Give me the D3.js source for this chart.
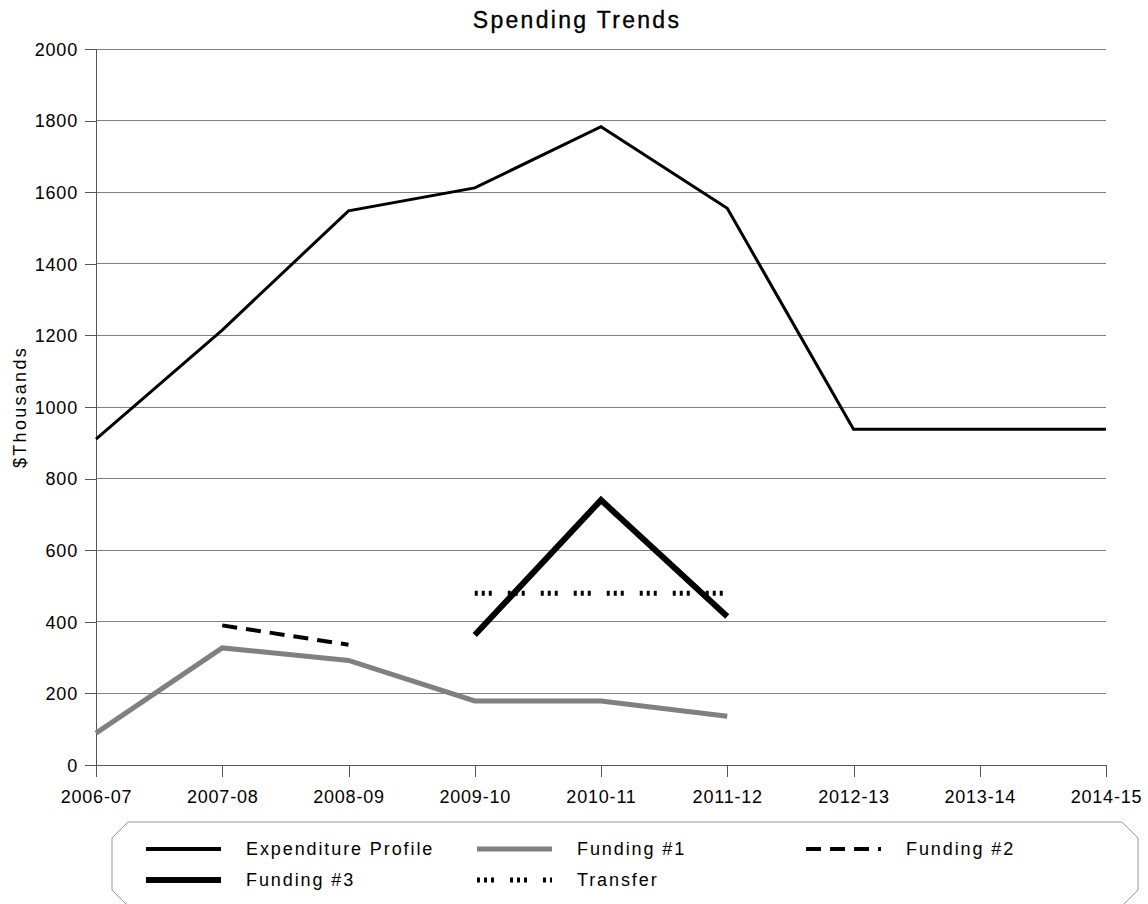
<!DOCTYPE html>
<html>
<head>
<meta charset="utf-8">
<script src="https://cdn.jsdelivr.net/npm/d3@7"></script>
<style>
  body { margin: 0; background: #fff; }
  text { font-family: "Liberation Sans", Arial, sans-serif; fill: #000; }
</style>
</head>
<body>
<svg id="chart" width="1148" height="904"></svg>
<script>
const categories = ["2006-07","2007-08","2008-09","2009-10","2010-11","2011-12","2012-13","2013-14","2014-15"];
const expenditureProfile = [910, 1215, 1548, 1612, 1783, 1555, 938, 938, 938];
const funding1 = [89, 327, 292, 179, 179, 136, null, null, null];
const funding2 = [null, 390, 336, null, null, null, null, null, null];
const funding3 = [null, null, null, 363, 740, 415, null, null, null];
const transfer = [null, null, null, 480, 480, 480, null, null, null];
const yTicks = [0, 200, 400, 600, 800, 1000, 1200, 1400, 1600, 1800, 2000];

const series = [
  { name: "Expenditure Profile", values: expenditureProfile, color: "#000", width: 3, dash: null, lw: 4 },
  { name: "Funding #1", values: funding1, color: "#808080", width: 5, dash: null, lw: 5 },
  { name: "Funding #2", values: funding2, color: "#000", width: 4, dash: "15,9", lw: 4 },
  { name: "Funding #3", values: funding3, color: "#000", width: 6, dash: null, lw: 6 },
  { name: "Transfer", values: transfer, color: "#000", width: 5, dash: "3,4,3,4,3,16", lw: 5 }
];

const svg = d3.select("#chart");
const pL = 96, pR = 1106, pT = 49, pB = 765;

const x = d3.scalePoint().domain(categories).range([pL, pR]).padding(0);
const y = d3.scaleLinear().domain([0, 2000]).range([pB, pT]);

// title
svg.append("text").attr("x", 577).attr("y", 28).attr("text-anchor", "middle")
  .style("font-size", "23px").style("letter-spacing", "2.3px")
  .attr("stroke", "#000").attr("stroke-width", 0.35)
  .text("Spending Trends");

// gridlines
svg.append("g").selectAll("line").data(yTicks).join("line")
  .attr("x1", pL).attr("x2", pR)
  .attr("y1", d => y(d)).attr("y2", d => y(d))
  .attr("stroke", d => d === 0 ? "#555" : "#808080").attr("stroke-width", 1)
  .attr("shape-rendering", "crispEdges");

// y axis
const yAxis = svg.append("g").attr("transform", `translate(${pL},0)`)
  .call(d3.axisLeft(y).tickValues(yTicks).tickSize(11).tickPadding(7).tickFormat(d3.format("d")));
yAxis.select(".domain").remove();
yAxis.selectAll(".tick line").attr("stroke", "#555").attr("shape-rendering", "crispEdges");
yAxis.selectAll("text").style("font-size", "18px").style("letter-spacing", "0.8px").attr("dy", "0.35em");
svg.append("line").attr("x1", pL).attr("x2", pL).attr("y1", pT).attr("y2", pB + 12)
  .attr("stroke", "#555").attr("shape-rendering", "crispEdges");

// x axis
const xAxis = svg.append("g").attr("transform", `translate(0,${pB})`)
  .call(d3.axisBottom(x).tickSize(12).tickPadding(13));
xAxis.select(".domain").remove();
xAxis.selectAll(".tick line").attr("stroke", "#555").attr("shape-rendering", "crispEdges");
xAxis.selectAll("text").style("font-size", "18px").style("letter-spacing", "0.8px");

// y label
svg.append("text").attr("transform", `translate(26,${(pT + pB) / 2}) rotate(-90)`)
  .attr("text-anchor", "middle").style("font-size", "18px").style("letter-spacing", "2.3px")
  .text("$Thousands");

// lines
const line = d3.line().defined(d => d.v !== null).x(d => x(d.c)).y(d => y(d.v));
series.forEach(s => {
  const pts = categories.map((c, i) => ({ c, v: s.values[i] }));
  svg.append("path").datum(pts).attr("d", line)
    .attr("fill", "none").attr("stroke", s.color).attr("stroke-width", s.width)
    .attr("stroke-dasharray", s.dash).attr("stroke-linejoin", "miter");
});

// legend box
const bx0 = 112, bx1 = 1138, by0 = 822, by1 = 906, ch = 16;
const poly = [[bx0 + ch, by0], [bx1 - ch, by0], [bx1, by0 + ch], [bx1, by1 - ch], [bx1 - ch, by1], [bx0 + ch, by1], [bx0, by1 - ch], [bx0, by0 + ch]];
svg.append("polygon").attr("points", poly.map(p => p.join(",")).join(" "))
  .attr("fill", "none").attr("stroke", "#999").attr("stroke-width", 1);

const colX = [146, 477, 806];
const rowY = [849, 880];
series.forEach((s, i) => {
  const cx = colX[i % 3], cy = rowY[Math.floor(i / 3)];
  svg.append("line").attr("x1", cx).attr("x2", cx + 75).attr("y1", cy).attr("y2", cy)
    .attr("stroke", s.color).attr("stroke-width", s.lw).attr("stroke-dasharray", s.dash);
  svg.append("text").attr("x", cx + 100).attr("y", cy).attr("dy", "0.35em")
    .style("font-size", "18px").style("letter-spacing", "1.9px").text(s.name);
});
</script>
</body>
</html>
